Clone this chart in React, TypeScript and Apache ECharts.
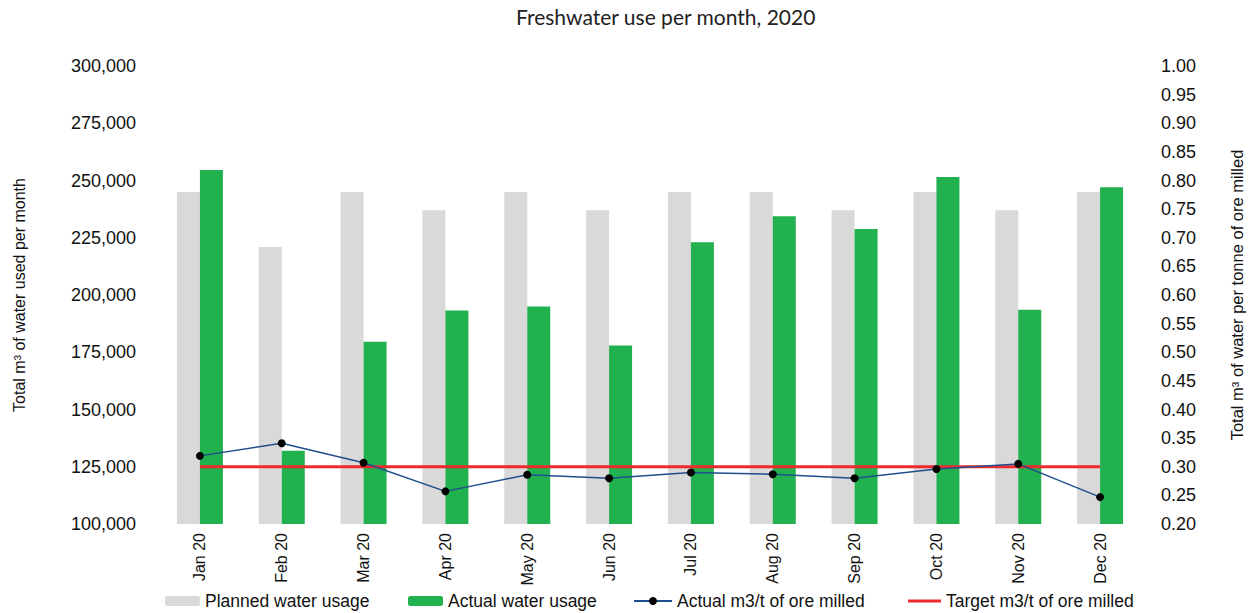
import React, { useEffect, useRef } from "react";
import * as echarts from "echarts";

const months = ["Jan 20", "Feb 20", "Mar 20", "Apr 20", "May 20", "Jun 20", "Jul 20", "Aug 20", "Sep 20", "Oct 20", "Nov 20", "Dec 20"];
const plannedUsage = [245000, 221000, 245000, 237000, 245000, 237000, 245000, 245000, 237000, 245000, 237000, 245000];
const actualUsage = [254600, 132000, 179600, 193200, 195000, 177900, 223000, 234400, 228800, 251500, 193600, 247000];
const actualRatio = [0.319, 0.341, 0.307, 0.257, 0.286, 0.28, 0.29, 0.287, 0.28, 0.296, 0.305, 0.247];
const targetRatio = [0.3, 0.3, 0.3, 0.3, 0.3, 0.3, 0.3, 0.3, 0.3, 0.3, 0.3, 0.3];

const AX_FONT = "'Liberation Sans', Arial, sans-serif";
const NARROW = "'Liberation Sans Narrow', 'Liberation Sans', Arial, sans-serif";

export default function App() {
  const ref = useRef<HTMLDivElement>(null);
  useEffect(() => {
    document.body.style.margin = "0";
    const chart = echarts.init(ref.current!, null, { renderer: "svg" });
    const legendText = { fontFamily: AX_FONT, fontSize: 17.5, lineHeight: 18, color: "#111" };
    const legendBase = { top: 592, padding: 0, itemGap: 2, textStyle: legendText };
    chart.setOption({
      animation: false,
      backgroundColor: "#fff",
      title: {
        text: "Freshwater use per month, 2020",
        left: 511,
        top: 1,
        textStyle: { fontFamily: "Lato", fontSize: 21, fontWeight: "normal", color: "#222" },
      },
      grid: { left: 159, right: 114, top: 66, bottom: 89, containLabel: false },
      legend: [
        { ...legendBase, data: ["Planned water usage"], left: 165, itemWidth: 35, itemHeight: 10 },
        { ...legendBase, data: ["Actual water usage"], left: 408, itemWidth: 35, itemHeight: 10 },
        { ...legendBase, data: ["Actual m3/t of ore milled"], left: 633, itemWidth: 38, itemHeight: 10 },
        {
          ...legendBase,
          data: [{ name: "Target m3/t of ore milled", icon: "rect" }],
          left: 908,
          itemWidth: 33,
          itemHeight: 3,
        },
      ],
      xAxis: {
        type: "category",
        data: months,
        axisLine: { show: false },
        axisTick: { show: false },
        axisLabel: { rotate: 90, margin: 9, fontFamily: AX_FONT, fontSize: 16, color: "#111" },
      },
      yAxis: [
        {
          type: "value",
          min: 100000,
          max: 300000,
          interval: 25000,
          name: "Total m³ of water used per month",
          nameLocation: "middle",
          nameGap: 132,
          nameTextStyle: { fontFamily: NARROW, fontSize: 16, color: "#111" },
          splitLine: { show: false },
          axisLine: { show: false },
          axisTick: { show: false },
          axisLabel: {
            margin: 23,
            fontFamily: AX_FONT,
            fontSize: 18,
            color: "#111",
            formatter: (v: number) => v.toLocaleString("en-US"),
          },
        },
        {
          type: "value",
          min: 0.2,
          max: 1.0,
          interval: 0.05,
          name: "Total m³ of water per tonne of ore milled",
          nameLocation: "middle",
          nameGap: 87,
          nameTextStyle: { fontFamily: NARROW, fontSize: 16.5, color: "#111" },
          splitLine: { show: false },
          axisLine: { show: false },
          axisTick: { show: false },
          axisLabel: {
            margin: 20,
            fontFamily: AX_FONT,
            fontSize: 18,
            color: "#111",
            formatter: (v: number) => v.toFixed(2),
          },
        },
      ],
      series: [
        {
          name: "Planned water usage",
          type: "bar",
          yAxisIndex: 0,
          data: plannedUsage,
          barWidth: 23,
          barGap: "0%",
          itemStyle: { color: "#D9D9D9" },
        },
        {
          name: "Actual water usage",
          type: "bar",
          yAxisIndex: 0,
          data: actualUsage,
          barWidth: 23,
          barGap: "0%",
          itemStyle: { color: "#21B14F" },
        },
        {
          name: "Target m3/t of ore milled",
          type: "line",
          yAxisIndex: 1,
          data: targetRatio,
          symbol: "none",
          lineStyle: { color: "#EE2A2F", width: 3 },
          itemStyle: { color: "#EE2A2F" },
        },
        {
          name: "Actual m3/t of ore milled",
          type: "line",
          yAxisIndex: 1,
          data: actualRatio,
          symbol: "circle",
          symbolSize: 8,
          lineStyle: { color: "#1F4E8C", width: 1.5 },
          itemStyle: { color: "#000" },
        },
      ],
    });
    return () => chart.dispose();
  }, []);
  return <div ref={ref} style={{ width: 1255, height: 613 }} />;
}
